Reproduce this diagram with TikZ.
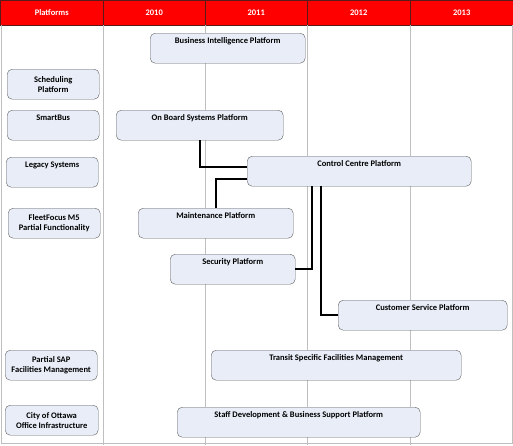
\documentclass[tikz,border=0pt]{standalone}
\usepackage{fontspec}
\setmainfont{Carlito}
\definecolor{headred}{HTML}{FF0000}
\definecolor{headline}{HTML}{5A1A1A}
\definecolor{gridgray}{HTML}{BFBFBF}
\definecolor{boxfill}{HTML}{E8EDF7}
\definecolor{boxline}{HTML}{5F5F5F}
\begin{document}
\begin{tikzpicture}[
	x=1pt, y=-1pt,
	font=\fontsize{8.5}{10}\selectfont\bfseries,
	plat/.style = {draw=boxline, fill=boxfill, rounded corners=5pt, anchor=north west,
		inner sep=2.5pt, text height=8pt, text depth=17pt},
	twoline/.style = {draw=boxline, fill=boxfill, rounded corners=5pt, anchor=north west,
		align=center, minimum height=30pt, inner sep=2pt},
	head/.style = {fill=headred, draw=headline, text=white, minimum height=25pt,
		anchor=north west, inner sep=0pt},
	grid/.style = {draw=gridgray, line width=1pt},
	conn/.style = {line width=1.8pt, black},
	]
	\useasboundingbox (0,0) rectangle (513,445);
	% header row and year columns
	\foreach \x/\w/\t in {0/103/Platforms, 103/102/2010, 205/102/2011, 307/103/2012, 410/103/2013}
		\node[head, minimum width=\w pt] (h\t) at (\x,0) {\t};
	\foreach \x in {103,205,307,410}
		\draw[grid] (\x,25) -- (\x,445);
	\draw[grid] (1,25) -- (1,443) -- (512,443) -- (512,25);
	% existing platforms
	\node[twoline, minimum width=92pt] (sched) at (7,69) {Scheduling\\Platform};
	\node[plat, minimum width=92pt] (smartbus) at (7,110) {SmartBus};
	\node[plat, minimum width=92pt] (legacy) at (6,157) {Legacy Systems};
	\node[twoline, minimum width=92pt] (fleet) at (8,208) {FleetFocus M5\\Partial Functionality};
	\node[twoline, minimum width=92pt] (sap) at (5,350) {Partial SAP\\Facilities Management};
	\node[twoline, minimum width=93pt] (ottawa) at (5,405) {City of Ottawa\\Office Infrastructure};
	% new platforms
	\node[plat, minimum width=155pt] (bi) at (150,33) {Business Intelligence Platform};
	\node[plat, minimum width=167pt] (onboard) at (116,110) {On Board Systems Platform};
	\node[plat, minimum width=224pt] (control) at (247,156) {Control Centre Platform};
	\node[plat, minimum width=155pt] (maint) at (138,208) {Maintenance Platform};
	\node[plat, minimum width=125pt] (security) at (170,254) {Security Platform};
	\node[plat, minimum width=169pt] (customer) at (338,300) {Customer Service Platform};
	\node[plat, minimum width=250pt] (transit) at (211,350) {Transit Specific Facilities Management};
	\node[plat, minimum width=243pt] (staff) at (177,407) {Staff Development \& Business Support Platform};
	% links to the control centre
	\draw[conn] ([xshift=84pt]onboard.south west) |- ([yshift=4pt]control.west);
	\draw[conn] ([xshift=78pt]maint.north west) |- ([yshift=-8pt]control.west);
	\draw[conn] (security.east) -| ([xshift=65pt]control.south west);
	\draw[conn] (customer.west) -| ([xshift=74pt]control.south west);
\end{tikzpicture}
\end{document}
